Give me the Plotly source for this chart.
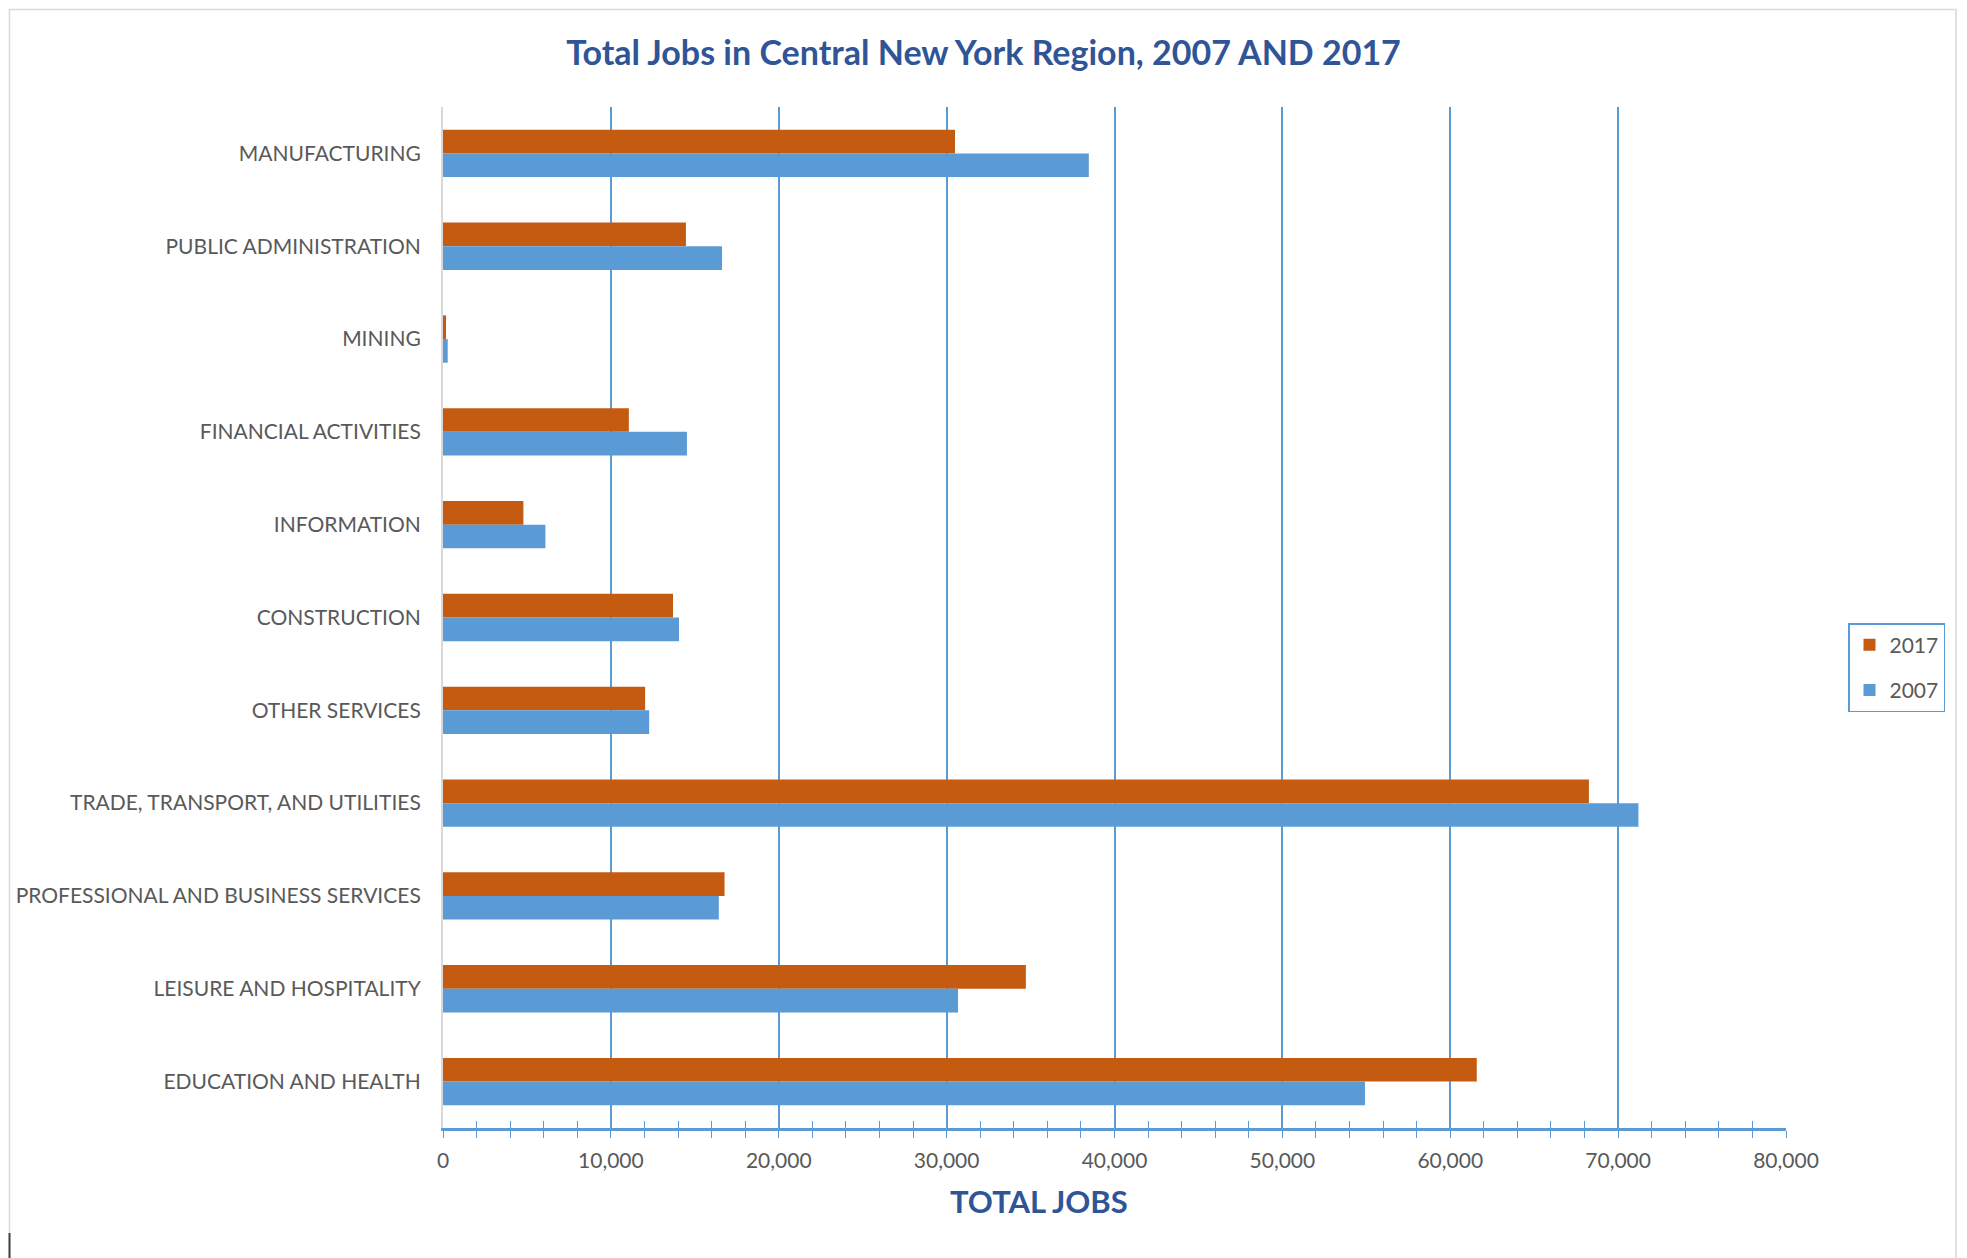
import plotly.graph_objects as go

categories = [
    "MANUFACTURING",
    "PUBLIC ADMINISTRATION",
    "MINING",
    "FINANCIAL ACTIVITIES",
    "INFORMATION",
    "CONSTRUCTION",
    "OTHER SERVICES",
    "TRADE, TRANSPORT, AND UTILITIES",
    "PROFESSIONAL AND BUSINESS SERVICES",
    "LEISURE AND HOSPITALITY",
    "EDUCATION AND HEALTH",
]
jobs_2017 = [30500, 14470, 180, 11070, 4790, 13700, 12040, 68260, 16770, 34720, 61580]
jobs_2007 = [38470, 16620, 280, 14530, 6100, 14060, 12280, 71210, 16430, 30680, 54920]
x_tickvals = [0, 10000, 20000, 30000, 40000, 50000, 60000, 70000, 80000]

ORANGE = "#C55A11"
BLUE = "#5B9BD5"
GRID = "#5B9BD5"
TEXT = "#595959"
TITLE = "#2F5597"
FONT = "Lato, 'Open Sans', sans-serif"

L, R, T, B = 443, 181, 107, 130
PW = 1967 - L - R
PH = 1258 - T - B
bottom_px = 1258 - B

fig = go.Figure()
fig.add_trace(go.Bar(y=categories, x=jobs_2017, name="2017", orientation="h",
                     marker=dict(color=ORANGE, line=dict(width=0)), legendgroup="a"))
fig.add_trace(go.Bar(y=categories, x=jobs_2007, name="2007", orientation="h",
                     marker=dict(color=BLUE, line=dict(width=0)), legendgroup="b"))
# helper trace so the overlaying axis (inner half of cross ticks) renders
fig.add_trace(go.Scatter(x=[None], y=[None], xaxis="x2", showlegend=False, hoverinfo="skip"))

fig.update_layout(
    width=1967, height=1258,
    margin=dict(l=L, r=R, t=T, b=B, autoexpand=False),
    paper_bgcolor="white", plot_bgcolor="white",
    barmode="group", bargap=0.49, bargroupgap=0,
    font=dict(family=FONT, color=TEXT),
    title=dict(text="<b>Total Jobs in Central New York Region, 2007 AND 2017</b>",
               xref="container", x=0.5, xanchor="center",
               yref="container", y=1 - 52.7 / 1258, yanchor="middle",
               font=dict(family=FONT, size=34, color=TITLE)),
    xaxis=dict(range=[0, 80000], tickvals=x_tickvals, tickformat=",",
               showgrid=True, gridcolor=GRID, gridwidth=1.6,
               zeroline=False, showline=True, linecolor=BLUE, linewidth=2.5,
               ticks="outside", ticklen=7, tickcolor=BLUE, tickwidth=1.2,
               ticklabelstandoff=5,
               minor=dict(dtick=2000, ticks="outside", ticklen=7, tickcolor=BLUE,
                          tickwidth=1.2, showgrid=False),
               tickfont=dict(family=FONT, size=21, color=TEXT),
               fixedrange=True),
    xaxis2=dict(range=[0, 80000], overlaying="x", anchor="y", side="bottom",
                showgrid=False, zeroline=False, showticklabels=False,
                tickvals=x_tickvals, ticks="inside", ticklen=7, tickcolor=BLUE, tickwidth=1.2,
                minor=dict(dtick=2000, ticks="inside", ticklen=7, tickcolor=BLUE,
                           tickwidth=1.2, showgrid=False)),
    yaxis=dict(autorange="reversed", showgrid=False, zeroline=False,
               showline=True, linecolor="#D9D9D9", linewidth=2, mirror=False,
               ticks="", ticklabelstandoff=16,
               tickfont=dict(family=FONT, size=21, color=TEXT)),
    legend=dict(x=(1848 - L) / PW, xanchor="left", y=(bottom_px - 623) / PH, yanchor="top",
                bordercolor=BLUE, borderwidth=1.5, bgcolor="white",
                font=dict(family=FONT, size=21, color=TEXT),
                tracegroupgap=15, itemwidth=30),
    showlegend=True,
)

fig.add_annotation(text="<b>TOTAL JOBS</b>", xref="paper", yref="paper",
                   x=(1038.5 - L) / PW, y=-(1200.5 - bottom_px) / PH,
                   xanchor="center", yanchor="middle", showarrow=False,
                   font=dict(family=FONT, size=31, color=TITLE))

# chart frame
fig.add_shape(type="rect", xref="paper", yref="paper",
              x0=(9.5 - L) / PW, x1=(1956 - L) / PW,
              y0=(bottom_px - 1263) / PH, y1=(bottom_px - 9.5) / PH,
              line=dict(color="#D9D9D9", width=1.5), layer="below")
# small cursor mark at lower left
fig.add_shape(type="line", xref="paper", yref="paper",
              x0=(9.5 - L) / PW, x1=(9.5 - L) / PW,
              y0=(bottom_px - 1233) / PH, y1=(bottom_px - 1258) / PH,
              line=dict(color="#404040", width=2))

fig.write_html("out.html", config={"displayModeBar": False},
               post_script="document.body.style.margin='0';document.body.style.overflow='hidden';")
